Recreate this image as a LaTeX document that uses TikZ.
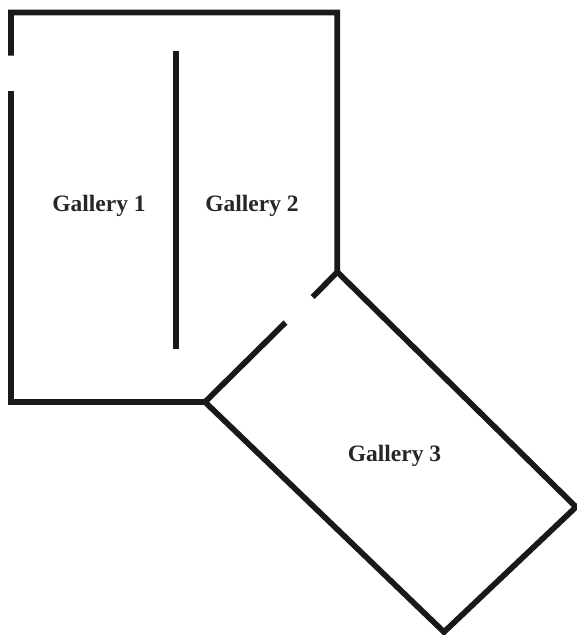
\documentclass[tikz,border=0pt]{standalone}
\usepackage{fontspec}
\setmainfont{Liberation Serif}
\tikzset{
  wall/.style={line width=5.7pt,color=black!90,line cap=butt,line join=miter},
  room/.style={font=\fontsize{23.5}{26}\selectfont\bfseries,text=black!85,inner sep=0pt,anchor=base}
}
\begin{document}
\begin{tikzpicture}[x=1pt,y=-1pt]
\useasboundingbox (0,0) rectangle (577,635);
\draw[wall] (11,55.5) -- (11,12.5) -- (337.3,12.5) -- (337.3,272) -- (312.7,297);
\draw[wall] (11,91) -- (11,402) -- (205,402) -- (285.5,322.5);
\draw[wall] (176,51) -- (176,349);
\draw[wall] (205,402) -- (444,632) -- (576,507) -- (337.3,272);
\node[room] (g1) at (99,211) {Gallery 1};
\node[room] (g2) at (252,211) {Gallery 2};
\node[room] (g3) at (394.5,461) {Gallery 3};
\end{tikzpicture}
\end{document}
